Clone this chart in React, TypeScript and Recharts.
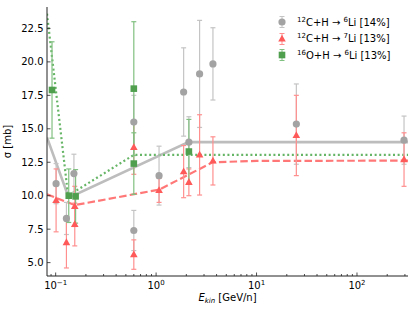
import { ComposedChart, ErrorBar, Legend, Line, Scatter, XAxis, YAxis } from "recharts";

document.body.style.margin = "0";

// 12C+H -> 6Li
const C6LI_E = [0.101, 0.128, 0.152, 0.6, 0.6, 1.07, 1.88, 2.12, 2.71, 3.68, 24.9, 294];
const C6LI_SIGMA = [10.9, 8.3, 11.65, 7.4, 15.5, 11.5, 17.75, 14.0, 19.1, 19.85, 15.35, 14.15];
const C6LI_ERR = [1.5, 1.2, 1.45, 1.5, 2.0, 2.2, 3.3, 1.9, 4.0, 2.7, 3.0, 1.8];

// 12C+H -> 7Li
const C7LI_E = [0.101, 0.128, 0.155, 0.155, 0.6, 0.6, 1.07, 1.88, 2.12, 2.71, 3.68, 24.9, 294];
const C7LI_SIGMA = [9.65, 6.5, 9.2, 7.85, 5.6, 13.6, 10.4, 11.8, 11.0, 13.05, 12.6, 14.5, 12.7];
const C7LI_ERR = [2.35, 1.9, 1.5, 1.6, 1.1, 2.0, 0.9, 1.95, 1.0, 3.0, 1.8, 3.0, 2.0];

// 16O+H -> 6Li
const O6LI_E = [0.092, 0.135, 0.158, 0.6, 0.6, 2.12];
const O6LI_SIGMA = [17.9, 10.0, 9.95, 18.0, 12.4, 13.3];
const O6LI_ERR = [3.6, 2.0, 2.0, 5.0, 2.3, 2.4];

// fitted curves
const C6LI_FIT_E = [0.082, 0.135, 2.1, 322];
const C6LI_FIT_SIGMA = [14.35, 9.85, 14.0, 14.0];
const C7LI_FIT_E = [0.082, 0.155, 1.07, 3.66, 10, 322];
const C7LI_FIT_SIGMA = [10.1, 9.3, 10.45, 12.5, 12.6, 12.62];
const O6LI_FIT_E = [0.082, 0.133, 0.6, 322];
const O6LI_FIT_SIGMA = [23.6, 10.0, 13.05, 13.05];

const X_MAJOR = [0.1, 1, 10, 100];
const X_MAJOR_EXP = ["\u22121", "0", "1", "2"];
const X_MINOR = [
  0.09, 0.2, 0.3, 0.4, 0.5, 0.6, 0.7, 0.8, 0.9, 2, 3, 4, 5, 6, 7, 8, 9, 20, 30, 40, 50, 60,
  70, 80, 90, 200, 300,
];
const Y_TICKS = [5, 7.5, 10, 12.5, 15, 17.5, 20, 22.5];

const points = (e: number[], s: number[], err: number[]) =>
  e.map((x, i) => ({ x, y: s[i], err: err[i] }));
const curve = (e: number[], s: number[]) => e.map((x, i) => ({ x, y: s[i] }));

const FONT = "DejaVu Sans";
const INK = "#222";

const GRAY = { marker: "#a3a3a3", bar: "#c4c4c4", line: "#bdbdbd" };
const RED = { marker: "#ff5a5a", bar: "#ff8f8f", line: "#ff7777" };
const GREEN = { marker: "#4f9f4f", bar: "#80c080", line: "#66b566" };

const Circle = (p: any) => <circle cx={p.cx} cy={p.cy} r={3.6} fill={GRAY.marker} />;
const Triangle = (p: any) => (
  <polygon
    points={`${p.cx},${p.cy - 4.2} ${p.cx - 3.8},${p.cy + 2.6} ${p.cx + 3.8},${p.cy + 2.6}`}
    fill={RED.marker}
  />
);
const Square = (p: any) => (
  <rect x={p.cx - 3.3} y={p.cy - 3.3} width={6.6} height={6.6} fill={GREEN.marker} />
);

function XTick({ x, y, payload, side }: any) {
  const v = payload.value;
  const mi = X_MAJOR.indexOf(v);
  const len = mi >= 0 ? 3.5 : 2;
  const dir = side === "top" ? 1 : -1;
  return (
    <g>
      <line x1={x} x2={x} y1={y} y2={y + dir * len} stroke={INK} strokeWidth={0.8} />
      {side === "bottom" && mi >= 0 && (
        <text x={x} y={y + 13} textAnchor="middle" fontSize={10} fontFamily={FONT} fill="#000">
          10
          <tspan dy={-4.5} fontSize={7}>
            {X_MAJOR_EXP[mi]}
          </tspan>
        </text>
      )}
    </g>
  );
}

function YTick({ x, y, payload, side }: any) {
  const dir = side === "left" ? 1 : -1;
  return (
    <g>
      <line x1={x} x2={x + dir * 3.5} y1={y} y2={y} stroke={INK} strokeWidth={0.8} />
      {side === "left" && (
        <text
          x={x - 3.5}
          y={y}
          dy="0.35em"
          textAnchor="end"
          fontSize={10}
          fontFamily={FONT}
          fill="#000"
        >
          {payload.value.toFixed(1)}
        </text>
      )}
    </g>
  );
}

const LEGEND_ITEMS = [
  { a: "12", el: "C", b: "6", pct: "14%", c: GRAY, kind: "circle" },
  { a: "12", el: "C", b: "7", pct: "13%", c: RED, kind: "triangle" },
  { a: "16", el: "O", b: "6", pct: "13%", c: GREEN, kind: "square" },
];

const supStyle = { fontSize: 7, verticalAlign: "baseline", position: "relative", top: -4 } as const;

function LegendBox() {
  return (
    <div style={{ fontFamily: FONT, fontSize: 10, color: "#000" }}>
      {LEGEND_ITEMS.map((it) => (
        <div key={it.kind} style={{ display: "flex", alignItems: "center", height: 16.5 }}>
          <svg width={16} height={14} style={{ marginRight: 7 }}>
            <line x1={8} x2={8} y1={1.5} y2={12.5} stroke={it.c.bar} strokeWidth={1} />
            <line x1={5.5} x2={10.5} y1={1.5} y2={1.5} stroke={it.c.bar} strokeWidth={1} />
            <line x1={5.5} x2={10.5} y1={12.5} y2={12.5} stroke={it.c.bar} strokeWidth={1} />
            {it.kind === "circle" && <circle cx={8} cy={7} r={3.6} fill={it.c.marker} />}
            {it.kind === "triangle" && (
              <polygon points="8,2.8 4.2,9.6 11.8,9.6" fill={it.c.marker} />
            )}
            {it.kind === "square" && (
              <rect x={4.7} y={3.7} width={6.6} height={6.6} fill={it.c.marker} />
            )}
          </svg>
          <span style={{ whiteSpace: "nowrap" }}>
            <sup style={supStyle}>{it.a}</sup>
            {it.el}+H {"\u2192"} <sup style={supStyle}>{it.b}</sup>
            Li [{it.pct}]
          </span>
        </div>
      ))}
    </div>
  );
}

export default function App() {
  const xDomain: [number, number] = [0.082, 322];
  const yDomain: [number, number] = [4.0, 24.1];
  const allX = [...X_MAJOR, ...X_MINOR];
  return (
    <div style={{ position: "relative", width: 416, height: 313, background: "#fff" }}>
      <ComposedChart width={416} height={313} margin={{ top: 7, right: 8, bottom: 0, left: 0 }}>
        <XAxis
          xAxisId="b"
          dataKey="x"
          type="number"
          scale="log"
          domain={xDomain}
          allowDataOverflow
          ticks={allX}
          interval={0}
          height={37}
          tickSize={0}
          tickMargin={0}
          tickLine={false}
          axisLine={{ stroke: INK, strokeWidth: 1 }}
          tick={<XTick side="bottom" />}
        />
        <XAxis
          xAxisId="t"
          orientation="top"
          dataKey="x"
          type="number"
          scale="log"
          domain={xDomain}
          allowDataOverflow
          ticks={allX}
          interval={0}
          height={0}
          tickSize={0}
          tickMargin={0}
          tickLine={false}
          axisLine={{ stroke: INK, strokeWidth: 1 }}
          tick={<XTick side="top" />}
        />
        <YAxis
          yAxisId="l"
          type="number"
          domain={yDomain}
          allowDataOverflow
          ticks={Y_TICKS}
          interval={0}
          width={47}
          tickSize={0}
          tickMargin={0}
          tickLine={false}
          axisLine={{ stroke: INK, strokeWidth: 1 }}
          tick={<YTick side="left" />}
          label={{
            value: "\u03c3 [mb]",
            angle: -90,
            position: "insideLeft",
            offset: 7,
            style: { fontFamily: FONT, fontSize: 10, fill: "#000", textAnchor: "middle" },
          }}
        />
        <YAxis
          yAxisId="r"
          orientation="right"
          type="number"
          domain={yDomain}
          allowDataOverflow
          ticks={Y_TICKS}
          interval={0}
          width={0}
          tickSize={0}
          tickMargin={0}
          tickLine={false}
          axisLine={{ stroke: INK, strokeWidth: 1 }}
          tick={<YTick side="right" />}
        />

        <Line
          xAxisId="b"
          yAxisId="l"
          data={curve(C6LI_FIT_E, C6LI_FIT_SIGMA)}
          dataKey="y"
          type="linear"
          stroke={GRAY.line}
          strokeWidth={2.6}
          dot={false}
          isAnimationActive={false}
        />
        <Line
          xAxisId="b"
          yAxisId="l"
          data={curve(C7LI_FIT_E, C7LI_FIT_SIGMA)}
          dataKey="y"
          type="linear"
          stroke={RED.line}
          strokeWidth={2.2}
          strokeDasharray="7.5 3.2"
          dot={false}
          isAnimationActive={false}
        />
        <Line
          xAxisId="b"
          yAxisId="l"
          data={curve(O6LI_FIT_E, O6LI_FIT_SIGMA)}
          dataKey="y"
          type="linear"
          stroke={GREEN.line}
          strokeWidth={2.2}
          strokeDasharray="2 2.6"
          dot={false}
          isAnimationActive={false}
        />

        <Scatter
          xAxisId="b"
          yAxisId="l"
          data={points(C6LI_E, C6LI_SIGMA, C6LI_ERR)}
          dataKey="y"
          shape={Circle}
          isAnimationActive={false}
        >
          <ErrorBar dataKey="err" direction="y" width={2.5} stroke={GRAY.bar} strokeWidth={1.2} />
        </Scatter>
        <Scatter
          xAxisId="b"
          yAxisId="l"
          data={points(C7LI_E, C7LI_SIGMA, C7LI_ERR)}
          dataKey="y"
          shape={Triangle}
          isAnimationActive={false}
        >
          <ErrorBar dataKey="err" direction="y" width={2.5} stroke={RED.bar} strokeWidth={1.2} />
        </Scatter>
        <Scatter
          xAxisId="b"
          yAxisId="l"
          data={points(O6LI_E, O6LI_SIGMA, O6LI_ERR)}
          dataKey="y"
          shape={Square}
          isAnimationActive={false}
        >
          <ErrorBar dataKey="err" direction="y" width={2.5} stroke={GREEN.bar} strokeWidth={1.2} />
        </Scatter>

        <Legend
          layout="horizontal"
          verticalAlign="middle"
          align="center"
          content={() => <LegendBox />}
          wrapperStyle={{ top: 14, left: 274, width: 142, height: 52 }}
        />
      </ComposedChart>
      <div
        style={{
          position: "absolute",
          top: 292,
          left: 0,
          width: 416,
          paddingLeft: 47,
          paddingRight: 8,
          boxSizing: "border-box",
          textAlign: "center",
          fontFamily: FONT,
          fontSize: 10,
          lineHeight: "12px",
          color: "#000",
        }}
      >
        <i>E</i>
        <sub style={{ fontSize: 7, fontStyle: "italic", verticalAlign: "baseline", position: "relative", top: 2 }}>
          kin
        </sub>{" "}
        [GeV/n]
      </div>
    </div>
  );
}
